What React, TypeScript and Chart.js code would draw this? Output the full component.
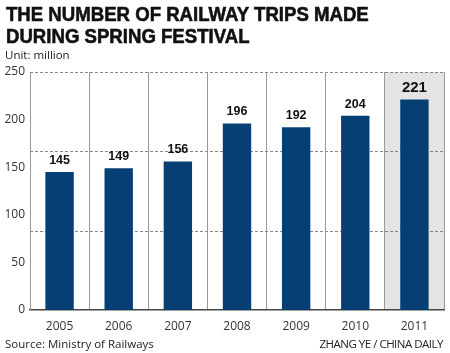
import React, { useEffect, useRef } from "react";
import { Chart, registerables } from "chart.js";
Chart.register(...registerables);

const titleLines = ["THE NUMBER OF RAILWAY TRIPS MADE", "DURING SPRING FESTIVAL"];
const unitLabel = "Unit: million";
const sourceLabel = "Source: Ministry of Railways";
const creditLabel = "ZHANG YE / CHINA DAILY";
const years = ["2005", "2006", "2007", "2008", "2009", "2010", "2011"];
const trips = [145, 149, 156, 196, 192, 204, 221];
const yTickValues = [0, 50, 100, 150, 200, 250];
const dashedGridValues = [250 / 3, 500 / 3, 250];
const highlightIndex = 6;

const BAR = "#063f73";

const highlightPlugin = {
  id: "highlight",
  beforeDraw(chart: any) {
    const { ctx, chartArea, scales } = chart;
    const x = scales.x;
    const half = (x.getPixelForValue(1) - x.getPixelForValue(0)) / 2;
    const cx = x.getPixelForValue(highlightIndex);
    ctx.save();
    ctx.fillStyle = "#e4e4e4";
    ctx.fillRect(cx - half, chartArea.top, half * 2, chartArea.bottom - chartArea.top);
    ctx.restore();
  },
  beforeDatasetsDraw(chart: any) {
    const { ctx, chartArea, scales } = chart;
    const y = scales.y;
    ctx.save();
    ctx.strokeStyle = "#888";
    ctx.lineWidth = 1;
    ctx.setLineDash([3, 2]);
    dashedGridValues.forEach((v) => {
      const py = Math.round(y.getPixelForValue(v)) + 0.5;
      ctx.beginPath();
      ctx.moveTo(chartArea.left, py);
      ctx.lineTo(chartArea.right, py);
      ctx.stroke();
    });
    ctx.restore();
  },
  afterDatasetsDraw(chart: any) {
    const { ctx } = chart;
    const meta = chart.getDatasetMeta(0);
    ctx.save();
    ctx.fillStyle = "#111";
    ctx.textAlign = "center";
    ctx.textBaseline = "alphabetic";
    meta.data.forEach((bar: any, i: number) => {
      const big = i === highlightIndex;
      ctx.font = big ? "bold 15px 'Liberation Sans'" : "bold 12.5px 'Liberation Sans'";
      ctx.fillText(String(trips[i]), bar.x, bar.y - 8);
    });
    ctx.restore();
  },
};

function App() {
  const ref = useRef<HTMLCanvasElement>(null);
  useEffect(() => {
    const chart = new Chart(ref.current!, {
      type: "bar",
      data: {
        labels: years,
        datasets: [
          {
            data: trips,
            backgroundColor: BAR,
            categoryPercentage: 1,
            barPercentage: 0.48,
          },
        ],
      },
      options: {
        animation: false,
        responsive: false,
        layout: { padding: { top: 72, right: 6, left: 0, bottom: 0 } },
        plugins: { legend: { display: false }, tooltip: { enabled: false } },
        scales: {
          x: {
            offset: true,
            grid: {
              offset: true,
              drawTicks: false,
              color: (c: any) => (c.index === years.length ? "rgba(0,0,0,0)" : "#9a9a9a"),
              lineWidth: 1,
            },
            border: { display: true, color: "#444", width: 1.5 },
            ticks: {
              padding: 9,
              color: "#333",
              font: { family: "'Open Sans'", size: 12 },
            },
            afterFit: (s: any) => {
              s.height = 43;
            },
          },
          y: {
            min: 0,
            max: 250,
            afterBuildTicks: (s: any) => {
              s.ticks = yTickValues.map((v) => ({ value: v }));
            },
            grid: { display: false, drawTicks: false },
            border: { display: true, color: "#9a9a9a", width: 1 },
            ticks: {
              padding: 5,
              color: "#333",
              font: { family: "'Open Sans'", size: 12 },
            },
            afterFit: (s: any) => {
              s.width = 30;
            },
          },
        },
      },
      plugins: [highlightPlugin],
    });
    return () => chart.destroy();
  }, []);

  const titleStyle: React.CSSProperties = {
    position: "absolute",
    left: 6,
    fontFamily: "'Liberation Sans', Arial, sans-serif",
    fontWeight: 900,
    fontSize: 20,
    color: "#111",
    whiteSpace: "nowrap",
    transform: "scaleX(0.93)",
    transformOrigin: "left top",
    WebkitTextStroke: "0.6px #111",
    lineHeight: "22px",
  };
  const smallStyle: React.CSSProperties = {
    position: "absolute",
    fontFamily: "'Open Sans', sans-serif",
    fontSize: 11.5,
    color: "#222",
    whiteSpace: "nowrap",
    lineHeight: "14px",
  };

  return (
    <div style={{ position: "absolute", left: 0, top: 0, width: 450, height: 353, background: "#fff", overflow: "hidden" }}>
      <canvas ref={ref} width={450} height={353} style={{ position: "absolute", left: 0, top: 0 }} />
      <div style={{ ...titleStyle, top: 3 }}>{titleLines[0]}</div>
      <div style={{ ...titleStyle, top: 25 }}>{titleLines[1]}</div>
      <div style={{ ...smallStyle, left: 5, top: 48 }}>{unitLabel}</div>
      <div style={{ ...smallStyle, left: 5, top: 337 }}>{sourceLabel}</div>
      <div style={{ ...smallStyle, right: 7, top: 337, letterSpacing: -0.5 }}>{creditLabel}</div>
    </div>
  );
}

export default App;
